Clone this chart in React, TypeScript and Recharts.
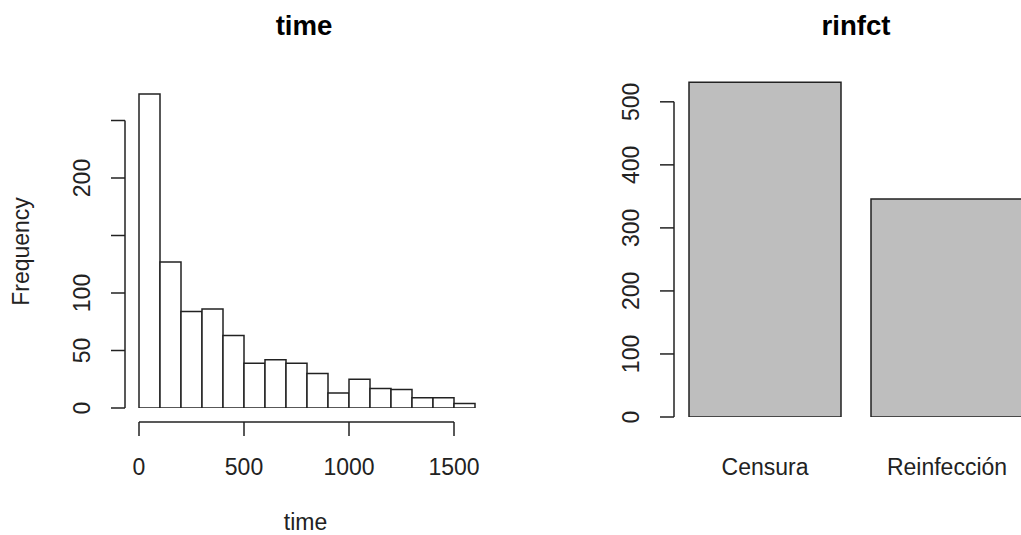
import React from "react";
import {
  ComposedChart,
  BarChart,
  Bar,
  XAxis,
  YAxis,
  ReferenceLine,
} from "recharts";

// histogram of time: bin starts (width 100) and counts
const BIN_START = [0, 100, 200, 300, 400, 500, 600, 700, 800, 900, 1000, 1100, 1200, 1300, 1400, 1500];
const TIME_FREQ = [273, 127, 84, 86, 63, 39, 42, 39, 30, 13, 25, 17, 16, 9, 9, 4];
const TIME_X_TICKS = [0, 500, 1000, 1500];
const TIME_Y_TICKS = [0, 50, 100, 150, 200, 250];
const TIME_Y_HIDDEN = [150, 250]; // R drops these labels (overlap)

// barplot of rinfct
const RINFCT_CATS = ["Censura", "Reinfección"];
const RINFCT_COUNT = [531, 346];
const RINFCT_Y_TICKS = [0, 100, 200, 300, 400, 500];

const histData = BIN_START.map((s, i) => ({ bin: String(s), start: s, freq: TIME_FREQ[i] }));
const barData = RINFCT_CATS.map((c, i) => ({ cat: c, count: RINFCT_COUNT[i] }));

const FONT = "'Liberation Sans', Arial, sans-serif";
const INK = "#222";
const LW = 1.5;
const TXT = 23;
const GAP = 14; // R puts axes 4% away from the data

const RotTick = (props: any) => {
  const { x, y, payload, hidden = [] } = props;
  if (hidden.includes(payload.value)) return <g />;
  return (
    <text
      x={x}
      y={y}
      transform={`rotate(-90, ${x}, ${y})`}
      textAnchor="middle"
      fontSize={TXT}
      fontFamily={FONT}
      fill={INK}
    >
      {payload.value}
    </text>
  );
};

const shifted = (dx: number, dy: number) => (p: any) => (
  <line
    x1={p.x1 + dx}
    y1={p.y1 + dy}
    x2={p.x2 + dx}
    y2={p.y2 + dy}
    stroke={INK}
    strokeWidth={LW}
  />
);

const tickStyle = { fontSize: TXT, fontFamily: FONT, fill: INK };

export default function App() {
  return (
    <div
      style={{
        position: "absolute",
        left: 0,
        top: 0,
        width: 1021,
        height: 535,
        overflow: "hidden",
        background: "#fff",
      }}
    >
      <div style={{ position: "absolute", left: 0, top: 0 }}>
        <ComposedChart
          width={510}
          height={535}
          data={histData}
          margin={{ top: 86, right: 35, bottom: 0, left: 0 }}
          barCategoryGap={0}
          barGap={0}
        >
          <XAxis
            xAxisId="num"
            type="number"
            dataKey="start"
            domain={[0, 1600]}
            allowDataOverflow
            ticks={TIME_X_TICKS}
            interval={0}
            padding={{ left: GAP, right: 0 }}
            axisLine={false}
            tickSize={GAP}
            tickMargin={23}
            tickLine={{ stroke: INK, strokeWidth: LW }}
            tick={tickStyle}
            height={113}
          />
          <XAxis xAxisId="bins" dataKey="bin" hide height={0} padding={{ left: GAP, right: 0 }} />
          <YAxis
            domain={[0, 280]}
            allowDataOverflow
            ticks={TIME_Y_TICKS}
            interval={0}
            padding={{ top: 0, bottom: GAP }}
            width={125}
            axisLine={false}
            tickSize={GAP}
            tickMargin={21}
            tickLine={{ stroke: INK, strokeWidth: LW }}
            tick={<RotTick hidden={TIME_Y_HIDDEN} />}
          />
          <Bar
            xAxisId="bins"
            dataKey="freq"
            fill="#fff"
            stroke={INK}
            strokeWidth={LW}
            isAnimationActive={false}
          />
          <ReferenceLine
            xAxisId="num"
            segment={[{ x: 0, y: 0 }, { x: 0, y: 250 }]}
            ifOverflow="visible"
            shape={shifted(-GAP, 0)}
          />
          <ReferenceLine
            xAxisId="num"
            segment={[{ x: 0, y: 0 }, { x: 1500, y: 0 }]}
            ifOverflow="visible"
            shape={shifted(0, GAP)}
          />
        </ComposedChart>
      </div>

      <div style={{ position: "absolute", left: 520, top: 0 }}>
        <BarChart
          width={560}
          height={535}
          data={barData}
          margin={{ top: 64, right: 42, bottom: 0, left: 0 }}
          barCategoryGap={15}
        >
          <XAxis
            dataKey="cat"
            axisLine={false}
            tickLine={false}
            tickSize={0}
            tickMargin={42}
            tick={tickStyle}
            interval={0}
            height={118}
          />
          <YAxis
            domain={[0, 560]}
            allowDataOverflow
            ticks={RINFCT_Y_TICKS}
            interval={0}
            width={154}
            axisLine={false}
            tickSize={GAP}
            tickMargin={21}
            tickLine={{ stroke: INK, strokeWidth: LW }}
            tick={<RotTick />}
          />
          <Bar
            dataKey="count"
            fill="#bebebe"
            stroke={INK}
            strokeWidth={LW}
            isAnimationActive={false}
          />
          <ReferenceLine
            segment={[{ x: RINFCT_CATS[0], y: 0 }, { x: RINFCT_CATS[0], y: 500 }]}
            position="start"
            ifOverflow="visible"
            stroke={INK}
            strokeWidth={LW}
          />
        </BarChart>
      </div>

      <svg
        width={1021}
        height={535}
        style={{ position: "absolute", left: 0, top: 0, pointerEvents: "none" }}
        fontFamily={FONT}
        fill={INK}
      >
        <text x={304} y={35} textAnchor="middle" fontSize={27.6} fontWeight="bold" fill="#000">
          time
        </text>
        <text x={856} y={35} textAnchor="middle" fontSize={27.6} fontWeight="bold" fill="#000">
          rinfct
        </text>
        <text x={29} y={251.5} transform="rotate(-90, 29, 251.5)" textAnchor="middle" fontSize={TXT}>
          Frequency
        </text>
        <text x={305.5} y={529.5} textAnchor="middle" fontSize={TXT}>
          time
        </text>
      </svg>
    </div>
  );
}
